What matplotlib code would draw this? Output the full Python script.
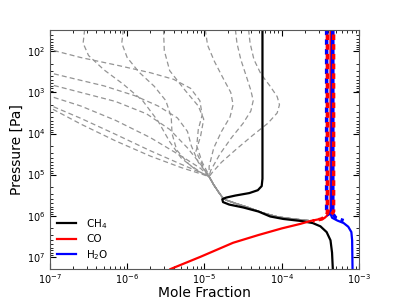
import numpy as np
import matplotlib
matplotlib.use("Agg")
import matplotlib.pyplot as plt

# profiles as log10(mole fraction), log10(pressure / Pa)
ch4_logx = [-4.25, -4.25, -4.26, -4.31, -4.42, -4.60, -4.72, -4.77, -4.76, -4.68, -4.50,
            -4.30, -4.15, -3.98, -3.75, -3.60, -3.50, -3.42, -3.37, -3.35, -3.34]
ch4_logp = [1.47, 5.10, 5.28, 5.38, 5.45, 5.51, 5.56, 5.60, 5.67, 5.73, 5.80,
            5.90, 6.02, 6.08, 6.13, 6.18, 6.26, 6.40, 6.60, 6.90, 7.30]

co_logx = [-3.37, -3.37, -3.39, -3.45, -3.63, -3.76, -4.00, -4.30, -4.63, -5.05, -5.44]
co_logp = [1.47, 5.86, 5.96, 6.06, 6.13, 6.20, 6.31, 6.47, 6.66, 7.00, 7.30]

h2o_logx = [-3.35, -3.36, -3.37, -3.35, -3.28, -3.20, -3.14, -3.10, -3.09, -3.085]
h2o_logp = [1.47, 5.80, 5.95, 6.05, 6.12, 6.18, 6.27, 6.40, 6.60, 7.30]

# dashed comparison profiles
co_dash_logx = [[-3.41, -3.41, -3.48, -3.60], [-3.33, -3.33, -3.38]]
co_dash_logp = [[1.47, 5.95, 6.08, 6.13], [1.47, 5.90, 6.02]]
h2o_dash_logx = [[-3.42, -3.42, -3.39], [-3.34, -3.34, -3.30, -3.20]]
h2o_dash_logp = [[1.47, 5.90, 6.00], [1.47, 5.95, 6.06, 6.12]]

# grey CH4 profiles (upper part), all joining a common lower tail
grey_logx = [
    [-6.55, -6.57, -6.50, -6.30, -6.05, -5.80, -5.60, -5.45, -5.30, -5.10],
    [-6.05, -6.07, -6.00, -5.85, -5.65, -5.50, -5.43, -5.42, -5.36, -5.20, -5.02],
    [-5.53, -5.52, -5.45, -5.25, -5.08, -5.01, -5.05, -5.11, -4.98],
    [-4.99, -4.96, -4.87, -4.76, -4.66, -4.63, -4.67, -4.78, -4.88, -4.94],
    [-4.60, -4.58, -4.53, -4.46, -4.40, -4.37, -4.40, -4.50, -4.65, -4.80, -4.92],
    [-4.43, -4.41, -4.36, -4.27, -4.15, -4.06, -4.03, -4.06, -4.18, -4.38, -4.60, -4.78, -4.90],
    [-7.05, -6.60, -6.10, -5.70, -5.40, -5.18, -5.06, -5.03, -5.08, -5.10, -5.03, -4.96],
    [-7.05, -6.70, -6.30, -5.90, -5.60, -5.35, -5.22, -5.17, -5.08, -4.97],
    [-7.05, -6.60, -6.15, -5.75, -5.45, -5.22, -5.05, -4.96],
    [-7.05, -6.60, -6.15, -5.70, -5.30, -5.05],
    [-7.05, -6.60, -6.15, -5.70, -5.30, -5.05],
    [-6.96, -6.60, -6.15, -5.70, -5.30, -5.05],
]
grey_logp = [
    [1.47, 1.80, 2.10, 2.45, 2.80, 3.20, 3.70, 4.20, 4.60, 4.90],
    [1.47, 1.80, 2.15, 2.50, 2.85, 3.20, 3.60, 4.00, 4.40, 4.75, 4.98],
    [1.47, 1.98, 2.47, 2.95, 3.33, 3.65, 4.06, 4.43, 4.96],
    [1.47, 1.85, 2.25, 2.65, 3.00, 3.30, 3.60, 3.95, 4.35, 4.80],
    [1.47, 1.80, 2.20, 2.60, 2.95, 3.20, 3.45, 3.75, 4.10, 4.50, 4.90],
    [1.47, 1.80, 2.20, 2.55, 2.85, 3.10, 3.30, 3.50, 3.75, 4.05, 4.40, 4.70, 4.95],
    [1.93, 2.15, 2.35, 2.52, 2.68, 2.90, 3.20, 3.55, 3.90, 4.30, 4.70, 4.95],
    [2.50, 2.66, 2.84, 3.08, 3.33, 3.62, 3.95, 4.30, 4.70, 4.97],
    [2.78, 3.00, 3.22, 3.52, 3.90, 4.35, 4.75, 4.98],
    [3.06, 3.33, 3.68, 4.10, 4.55, 4.85],
    [3.27, 3.63, 4.02, 4.42, 4.75, 4.95],
    [3.41, 3.77, 4.18, 4.55, 4.83, 4.98],
]
tail_logx = [-4.94, -4.88, -4.82, -4.77, -4.72, -4.60, -4.45, -4.25, -4.05, -3.85, -3.65]
tail_logp = [5.05, 5.25, 5.42, 5.55, 5.62, 5.70, 5.79, 5.93, 6.03, 6.08, 6.12]

labels = ["CH$_4$", "CO", "H$_2$O"]

fig = plt.figure(figsize=(3.99, 2.99), dpi=100)
ax = fig.add_axes([0.125, 0.1, 0.775, 0.8])

def lplot(lx, lp, **kw):
    return ax.plot(10 ** np.array(lx), 10 ** np.array(lp), **kw)

for gx, gp in zip(grey_logx, grey_logp):
    lplot(gx + tail_logx, gp + tail_logp, color="0.58", ls="--", lw=0.9, dashes=(4, 2.5))

lplot(ch4_logx, ch4_logp, color="k", lw=1.6, label=labels[0])
lplot(co_logx, co_logp, color="r", lw=1.6, label=labels[1])
lplot(h2o_logx, h2o_logp, color="b", lw=1.6, label=labels[2])

for dx, dp in zip(h2o_dash_logx, h2o_dash_logp):
    lplot(dx, dp, color="b", lw=2.5, ls=(0, (1.6, 1.2)))
for dx, dp in zip(co_dash_logx, co_dash_logp):
    lplot(dx, dp, color="r", lw=2.5, ls=(1.4, (1.6, 1.2)))

ax.set_xscale("log")
ax.set_yscale("log")
ax.set_xlim(1e-7, 1e-3)
ax.set_ylim(2e7, 30)
ax.set_xlabel("Mole Fraction", fontsize=10, labelpad=0)
ax.set_ylabel("Pressure [Pa]", fontsize=10, labelpad=2)
ax.tick_params(which="both", direction="in", top=True, right=True, labelsize=7)
ax.tick_params(axis="x", pad=2.5)
ax.tick_params(which="major", length=4)
ax.tick_params(which="minor", length=2)
for s in ax.spines.values():
    s.set_color("0.35")
ax.legend(loc="lower left", frameon=False, fontsize=7.5, handlelength=1.8,
          handletextpad=1.0, labelspacing=0.35, borderaxespad=0.3)

fig.savefig("out.png", dpi=100)
